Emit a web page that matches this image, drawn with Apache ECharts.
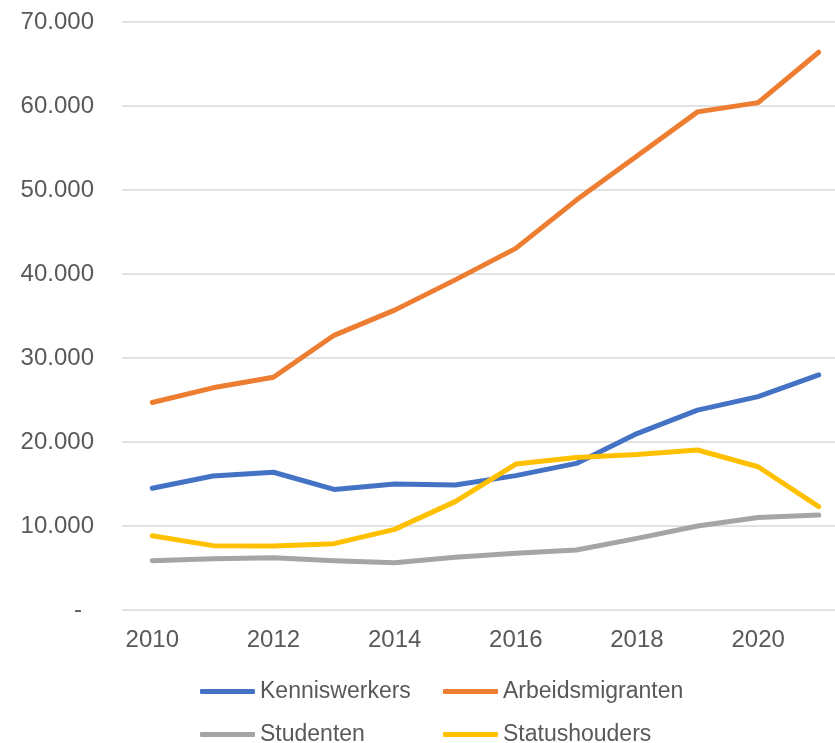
<!DOCTYPE html>
<html>
<head>
<meta charset="utf-8">
<script src="https://cdn.jsdelivr.net/npm/echarts@6/dist/echarts.min.js"></script>
<style>
  html, body { margin: 0; padding: 0; background: #fff; }
  #chart { width: 835px; height: 743px; }
</style>
</head>
<body>
<div id="chart"></div>
<script>
const years = ["2010", "2011", "2012", "2013", "2014", "2015", "2016", "2017", "2018", "2019", "2020", "2021"];
const kenniswerkers = [14500, 15950, 16400, 14350, 15000, 14880, 16000, 17450, 21000, 23800, 25400, 28000];
const arbeidsmigranten = [24700, 26450, 27700, 32700, 35700, 39300, 43050, 48800, 54050, 59300, 60400, 66400];
const studenten = [5870, 6100, 6230, 5870, 5630, 6270, 6750, 7140, 8530, 10000, 11000, 11300];
const statushouders = [8850, 7660, 7620, 7900, 9600, 12900, 17380, 18150, 18500, 19050, 17050, 12300];

const TEXT = "#595959";
const FONT = "Liberation Sans";

const fmt = (v) => {
	if (v === 0) return "{d|-}";
	return String(v).replace(/\B(?=(\d{3})+(?!\d))/g, ".");
};

const line = (name, data, color) => ({
	name,
	type: "line",
	data,
	symbol: "none",
	lineStyle: { width: 5, color, cap: "round", join: "round" },
	itemStyle: { color },
});

const chart = echarts.init(document.getElementById("chart"), null, { renderer: "canvas" });

// one legend per item so the two columns line up like in the original
const legendItem = (name, left, top) => ({
	data: [name],
	left,
	top,
	padding: 0,
	itemWidth: 55,
	itemHeight: 5,
	icon: "roundRect",
	textStyle: { color: TEXT, fontFamily: FONT, fontSize: 23 },
});

chart.setOption({
	animation: false,
	grid: { left: 122, top: 22, width: 727, height: 588, outerBoundsMode: "none" },
	xAxis: {
		type: "category",
		data: years,
		boundaryGap: true,
		axisLine: { show: false },
		axisTick: { show: false },
		axisLabel: {
			interval: 1,
			margin: 18,
			color: TEXT,
			fontFamily: FONT,
			fontSize: 24,
		},
	},
	yAxis: {
		type: "value",
		min: 0,
		max: 70000,
		interval: 10000,
		axisLine: { show: false },
		axisTick: { show: false },
		splitLine: { lineStyle: { color: "#D9D9D9", width: 1.5 } },
		axisLabel: {
			margin: 28,
			color: TEXT,
			fontFamily: FONT,
			fontSize: 24,
			formatter: fmt,
			rich: { d: { color: TEXT, fontFamily: FONT, fontSize: 24, padding: [0, 12, 0, 0] } },
		},
	},
	legend: [
		legendItem("Kenniswerkers", 200, 680),
		legendItem("Arbeidsmigranten", 443, 680),
		legendItem("Studenten", 200, 723),
		legendItem("Statushouders", 443, 723),
	],
	series: [
		line("Kenniswerkers", kenniswerkers, "#4472C4"),
		line("Arbeidsmigranten", arbeidsmigranten, "#ED7D31"),
		line("Studenten", studenten, "#A5A5A5"),
		line("Statushouders", statushouders, "#FFC000"),
	],
});
</script>
</body>
</html>
